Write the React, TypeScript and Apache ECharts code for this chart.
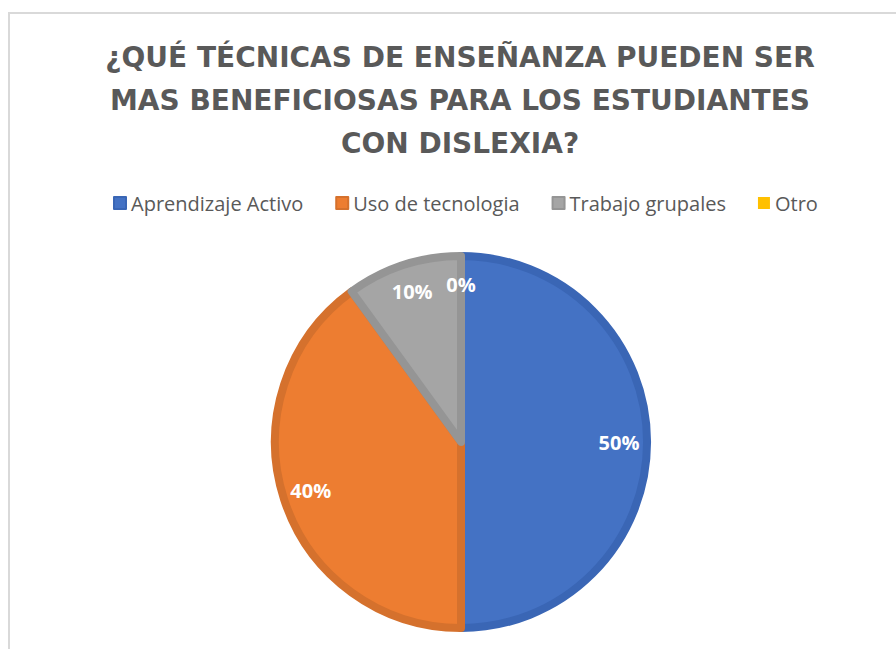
import React, { useEffect, useRef } from "react";
import * as echarts from "echarts";

const categories = ["Aprendizaje Activo", "Uso de tecnologia", "Trabajo grupales", "Otro"];
const values = [50, 40, 10, 0];
const colors = ["#4472C4", "#ED7D31", "#A5A5A5", "#FFC000"];
const borderColors = ["#3A66B5", "#D5712D", "#959595", "#E0A800"];
const titleText = "¿QUÉ TÉCNICAS DE ENSEÑANZA PUEDEN SER\nMAS BENEFICIOSAS PARA LOS ESTUDIANTES\nCON DISLEXIA?";

export default function App() {
  const ref = useRef<HTMLDivElement>(null);
  useEffect(() => {
    if (!ref.current) return;
    const chart = echarts.init(ref.current, null, { renderer: "svg" });
    const total = values.reduce((a, b) => a + b, 0);
    chart.setOption({
      animation: false,
      backgroundColor: "#ffffff",
      title: {
        text: titleText,
        left: 455,
        top: 31,
        textAlign: "center",
        textStyle: {
          fontFamily: "DejaVu Sans",
          fontWeight: "bold",
          fontSize: 28,
          lineHeight: 43,
          color: "#595959",
        },
      },
      legend: {
        data: categories,
        left: 108,
        top: 188,
        icon: "rect",
        itemWidth: 12,
        itemHeight: 12,
        itemGap: 32,
        textStyle: { fontFamily: "Open Sans", fontSize: 20, color: "#595959" },
      },
      graphic: [
        {
          type: "rect",
          shape: { x: 9, y: 13, width: 1000, height: 1000 },
          style: { fill: "none", stroke: "#d9d9d9", lineWidth: 2 },
          silent: true,
        },
      ],
      series: [
        {
          type: "pie",
          center: [461, 442],
          radius: [0, 186],
          startAngle: 90,
          clockwise: true,
          label: { show: false },
          labelLine: { show: false },
          data: categories.map((name, i) => ({
            name,
            value: values[i],
            itemStyle: {
              color: colors[i],
              borderColor: borderColors[i],
              borderWidth: values[i] === 0 ? 0 : 8,
            },
          })),
        },
        {
          type: "pie",
          center: [461, 442],
          radius: [120, 190],
          startAngle: 90,
          clockwise: true,
          silent: true,
          itemStyle: { color: "rgba(0,0,0,0)" },
          labelLine: { show: false },
          label: {
            show: true,
            position: "inside",
            color: "#ffffff",
            fontFamily: "Open Sans",
            fontWeight: "bold",
            fontSize: 20,
            formatter: (p: any) => Math.round((p.value / total) * 100) + "%",
          },
          data: categories.map((name, i) => ({ name, value: values[i] })),
        },
      ],
    });
    return () => chart.dispose();
  }, []);
  return (
    <div
      ref={ref}
      style={{ position: "fixed", left: 0, top: 0, width: 896, height: 649 }}
    />
  );
}
